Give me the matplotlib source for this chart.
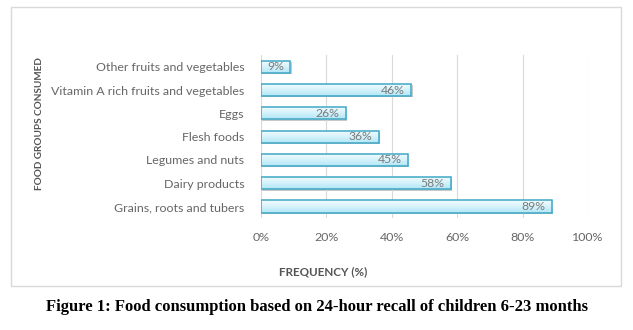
import numpy as np
import matplotlib.pyplot as plt
from matplotlib.patches import Rectangle
from matplotlib.colors import LinearSegmentedColormap

groups = ['Grains, roots and tubers', 'Dairy products', 'Legumes and nuts',
          'Flesh foods', 'Eggs', 'Vitamin A rich fruits and vegetables',
          'Other fruits and vegetables']
freq = [89, 58, 45, 36, 26, 46, 9]
xticks = [0, 20, 40, 60, 80, 100]

grey = '#666666'
plt.rcParams['font.family'] = ['Lato', 'DejaVu Sans']

fig = plt.figure(figsize=(6.33, 3.30), dpi=100)
fig.patches.append(Rectangle((0.0174, 0.133), 0.964, 0.846, transform=fig.transFigure,
                             facecolor='white', edgecolor='#d9d9d9', lw=1.0, zorder=-5))

ax = fig.add_axes([0.4123, 0.339, 0.5167, 0.494])
ax.set_zorder(2)
ax.set_facecolor('none')
y = np.arange(len(groups))
bars = ax.barh(y, freq, height=0.52, facecolor='none', edgecolor='#3fa7c6', lw=1.1, zorder=3)

# gradient fill, white on top to light cyan below
cmap = LinearSegmentedColormap.from_list('g', ['#b2e6f5', '#d6f3fb', '#f4fcfe'])
grad = np.linspace(0, 1, 50).reshape(-1, 1)
for b in bars:
    x0, y0 = b.get_x(), b.get_y()
    w, h = b.get_width(), b.get_height()
    ax.add_patch(Rectangle((x0 + 0.4, y0 - 0.06), w, h, facecolor='#c8c8c8', lw=0, zorder=1))
    im = ax.imshow(grad, extent=[x0, x0 + w, y0, y0 + h], origin='lower', cmap=cmap,
                   aspect='auto', zorder=2)
    im.set_clip_path(b)
    ax.text(x0 + w - 2, y0 + h / 2, f'{w}%', ha='right', va='center',
            fontsize=8.8, color='#7a7a7a', zorder=4)

ax.set_xlim(0, 100)
ax.set_ylim(-0.5, len(groups) - 0.5)
ax.set_xticks(xticks)
ax.set_xticklabels([f'{t}%' for t in xticks])
ax.set_yticks(y)
ax.set_yticklabels(groups)
ax.tick_params(length=0, labelsize=8.9, colors=grey)
ax.tick_params(axis='x', pad=10)
ax.tick_params(axis='y', pad=12)
ax.grid(axis='x', color='#d9d9d9', lw=0.8, zorder=0)
for s in ax.spines.values():
    s.set_visible(False)

fig.text(0.51, 0.176, 'FREQUENCY (%)', ha='center', va='center', fontsize=8.4,
         fontweight='bold', color='#555555')
fig.text(0.062, 0.627, 'FOOD GROUPS CONSUMED', ha='center', va='center', fontsize=7.2,
         fontweight='bold', color='#555555', rotation=90)
fig.text(0.5, 0.07, 'Figure 1: Food consumption based on 24-hour recall of children 6-23 months',
         ha='center', va='center', fontsize=12, fontweight='bold', color='black',
         family='Liberation Serif')

fig.savefig('out.png', dpi=100)
